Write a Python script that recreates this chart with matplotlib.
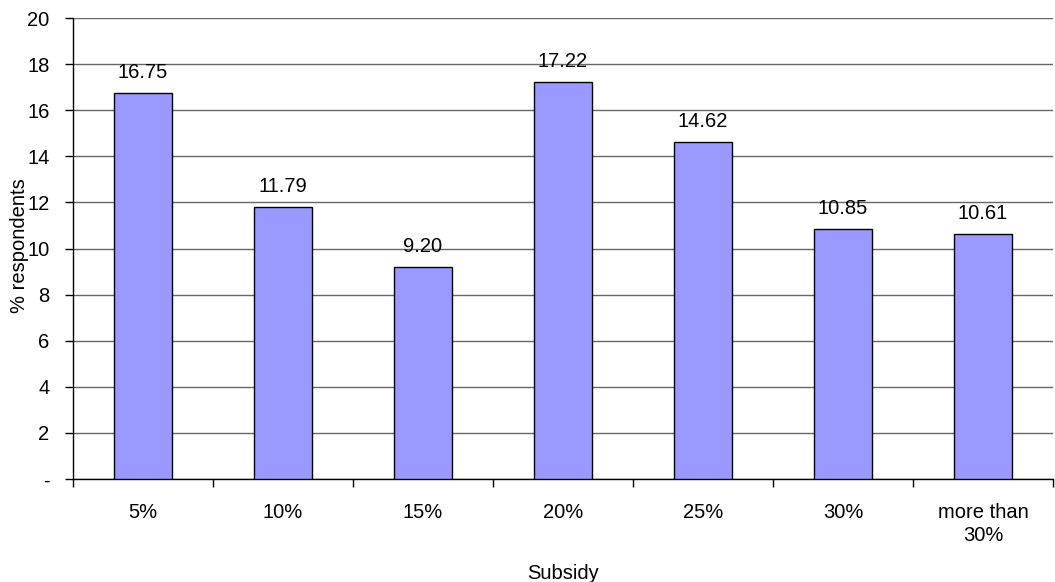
import numpy as np
import matplotlib.pyplot as plt
from matplotlib.ticker import FixedLocator

categories = ["5%", "10%", "15%", "20%", "25%", "30%", "more than\n30%"]
respondents = [16.75, 11.79, 9.20, 17.22, 14.62, 10.85, 10.61]
y_ticks = [0, 2, 4, 6, 8, 10, 12, 14, 16, 18, 20]
y_tick_labels = ["-"] + [str(v) for v in y_ticks[1:]]

plt.rcParams["font.family"] = ["Liberation Sans", "DejaVu Sans"]
plt.rcParams["font.size"] = 14.5

fig = plt.figure(figsize=(10.55, 5.82), dpi=100)
ax = fig.add_axes([73 / 1055, 1 - 479 / 582, (1053 - 73) / 1055, (479 - 18) / 582])

x = np.arange(len(categories))
ax.bar(x, respondents, width=0.41, color="#9999FF", edgecolor="black",
       linewidth=1.0, zorder=3)

for xi, v in zip(x, respondents):
    ax.annotate(f"{v:.2f}", (xi, v), xytext=(0, 8), textcoords="offset points",
                ha="center", va="bottom")

ax.set_xlim(-0.5, len(categories) - 0.5)
ax.set_ylim(0, 20)
ax.set_yticks(y_ticks)
ax.set_yticklabels(y_tick_labels)
ax.yaxis.grid(True, color="#666666", linewidth=1.0, zorder=0)

# category boundaries get the tick marks, category centres get the labels
ax.xaxis.set_major_locator(FixedLocator(np.arange(-0.5, len(categories), 1.0)))
ax.xaxis.set_minor_locator(FixedLocator(x))
ax.set_xticklabels([])
ax.set_xticklabels(categories, minor=True, linespacing=1.3)
ax.tick_params(axis="x", which="major", length=6, width=1, direction="out")
ax.tick_params(axis="x", which="minor", length=0, pad=17)
ax.tick_params(axis="y", length=6, width=1, pad=11)

for s in ["top", "right"]:
    ax.spines[s].set_visible(False)
for s in ["left", "bottom"]:
    ax.spines[s].set_linewidth(1.0)

# axis titles placed in axes fractions (ylabel sits over the tick labels)
ax.set_xlabel("Subsidy", va="top")
ax.xaxis.set_label_coords(0.5, (479 - 564) / 461)
ax.set_ylabel("% respondents", va="center", ha="center")
ax.yaxis.set_label_coords((20 - 73) / 980, (479 - 246) / 461)

fig.savefig("out.png", dpi=100)
